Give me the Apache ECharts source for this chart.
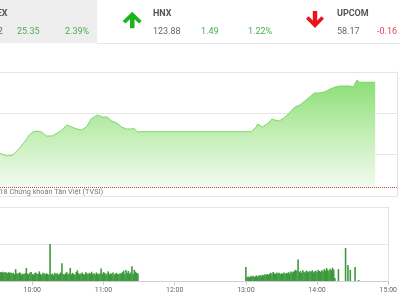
<!DOCTYPE html>
<html><head><meta charset="utf-8">
<script src="https://cdn.jsdelivr.net/npm/echarts@6/dist/echarts.min.js"></script>
<style>html,body{margin:0;padding:0;background:#fff}#c{width:400px;height:300px}</style>
</head><body><div id="c"></div>
<script>
// ---- data ----
const priceTimes = ["09:30","09:33","09:38","09:43","09:45","09:49","09:53","09:57","10:00","10:04","10:07","10:11","10:16","10:20","10:24","10:28","10:32","10:36","10:40","10:44","10:48","10:53","10:57","11:01","11:05","11:09","11:13","11:17","11:21","11:23","11:26","11:30",
  "13:00","13:01","13:04","13:05","13:09","13:13","13:17","13:19","13:23","13:28","13:32","13:36","13:40","13:44","13:48","13:52","13:56","14:00","14:05","14:09","14:13","14:17","14:21","14:24","14:27","14:29","14:33","14:42"];
const priceValues = [1070.10,1070.33,1069.68,1069.80,1070.41,1071.62,1073.07,1074.76,1075.49,1075.73,1075.49,1074.52,1074.52,1075.24,1075.97,1077.18,1076.70,1076.21,1075.97,1076.70,1078.63,1079.60,1079.11,1079.11,1078.15,1077.66,1076.70,1076.21,1076.21,1076.45,1075.49,1075.56,
  1075.56,1075.97,1076.70,1077.42,1076.70,1077.42,1078.63,1078.39,1078.15,1079.11,1080.32,1081.53,1082.02,1082.98,1083.95,1084.92,1084.92,1085.16,1085.89,1086.37,1086.61,1086.61,1086.61,1086.37,1088.06,1087.52,1087.52,1087.52];
const referenceValue = 1062.17;

const morningStart = "09:33";
const morningVolume = [
  24,23,25,22,24,23,21,24,22,23,
  20,22,18,32,21,19,23,22,17,20,
  19,21,35,20,18,22,24,19,17,21,
  23,18,20,26,19,16,22,20,18,21,
  19,17,100,18,20,16,22,19,21,17,
  20,23,48,19,17,21,24,18,20,35,
  18,22,19,16,24,29,21,18,20,23,
  19,17,24,21,18,22,20,25,19,21,
  17,23,20,18,21,34,19,24,22,17,
  20,26,18,21,19,23,17,20,22,19,
  18,21,20,24,28,19,30,22,27,20,
  23,40,19,30,25,22,20];
const afternoonStart = "13:00";
const afternoonVolume = [
  38,
  11,12,10,13,12,14,11,13,15,12,
  14,16,13,17,15,18,16,19,17,20,
  22,18,24,21,19,23,20,22,18,21,
  20,23,19,22,21,24,20,26,23,25,
  28,30,27,
  58,
  24,27,22,29,25,23,28,26,24,27,
  25,29,23,26,28,24,30,27,25,29,
  26,32,28,35,30,27,33,29,36,31,
  8,0,0,32,0,0,0,0,0,89,0,43,0,30,0,0,0,38,0,0,3];

const tickLabels = ["10:00","11:00","12:00","13:00","14:00","15:00"];
const axisStart = "09:32.8";
const axisEnd = "15:00";

const indexNames = ["VNINDEX","HNX","UPCOM"];
const indexPrices = ["1087.52","123.88","58.17"];
const indexChanges = ["25.35","1.49","-0.16"];
const indexPercents = ["2.39%","1.22%"];
const creditText = "© 2018 Chứng khoán Tân Việt (TVSI)";

// ---- helpers ----
function toMin(s){ const p = s.split(':'); return (+p[0])*60 + parseFloat(p[1]); }
function fmt(v){ const h = Math.floor(v/60), m = Math.round(v - h*60); return (h<10?'0':'')+h+':'+(m<10?'0':'')+m; }

const priceData = priceTimes.map((t,i)=>[toMin(t), priceValues[i]]);
const volData = [];
morningVolume.forEach((v,i)=>volData.push([toMin(morningStart)+i, v]));
afternoonVolume.forEach((v,i)=>volData.push([toMin(afternoonStart)+i, v]));
const ticks = tickLabels.map(toMin);
const xmin = toMin(axisStart), xmax = toMin(axisEnd);

const green = '#4cb050', grayText = '#666', nameText = '#555', font = 'Roboto';
function txt(text, x, y, fill, opts){
  opts = opts || {};
  return {type:'text', silent:true, style:{text:text, x:x, y:y, fill:fill,
    font:(opts.weight||'normal')+' '+(opts.size||9)+'px '+font,
    align:opts.align||'left', textAlign:opts.align||'left',
    verticalAlign:'middle', textVerticalAlign:'middle'}};
}

const chart = echarts.init(document.getElementById('c'), null, {renderer:'canvas'});
chart.setOption({
  animation:false,
  backgroundColor:'#fff',
  grid:[
    {left:0, right:3, top:72, height:124},
    {left:0, right:3, top:207, height:74}
  ],
  xAxis:[
    {type:'value', gridIndex:0, min:xmin, max:xmax, axisLine:{show:false}, axisTick:{show:false}, axisLabel:{show:false}, splitLine:{show:false}},
    {type:'value', gridIndex:1, min:xmin, max:xmax,
      axisLine:{show:true, lineStyle:{color:'#d0d0d0'}},
      axisTick:{show:true, length:4, lineStyle:{color:'#cccccc'}, customValues:ticks},
      axisLabel:{show:true, customValues:ticks, formatter:fmt, color:grayText, fontSize:7, fontFamily:font, margin:6},
      splitLine:{show:false}}
  ],
  yAxis:[
    {type:'value', gridIndex:0, position:'right', min:1060, max:1090, interval:10,
      axisLine:{show:true, lineStyle:{color:'#e2e2e2'}}, axisTick:{show:false}, axisLabel:{show:false},
      splitLine:{show:true, lineStyle:{color:'#e6e6e6'}}},
    {type:'value', gridIndex:1, position:'right', min:0, max:200, interval:100,
      axisLine:{show:true, lineStyle:{color:'#e2e2e2'}}, axisTick:{show:false}, axisLabel:{show:false},
      splitLine:{show:true, lineStyle:{color:'#e6e6e6'}}}
  ],
  series:[
    {type:'line', xAxisIndex:0, yAxisIndex:0, data:priceData, showSymbol:false, symbol:'none',
      lineStyle:{color:'#7fd468', width:1},
      areaStyle:{origin:referenceValue, opacity:1, color:{type:'linear', x:0, y:0, x2:0, y2:1,
        colorStops:[{offset:0, color:'#8ade73'},{offset:0.5, color:'#c2eeb5'},{offset:1, color:'#f1fbee'}]}},
      markLine:{silent:true, symbol:'none', label:{show:false},
        lineStyle:{color:'#b03a2e', type:'dotted', width:1, opacity:0.9},
        data:[{yAxis:referenceValue}]}
    },
    {type:'bar', xAxisIndex:1, yAxisIndex:1, data:volData, barWidth:1.6,
      itemStyle:{color:'#3d993d'}}
  ],
  graphic:[
    {type:'rect', silent:true, shape:{x:0, y:0, width:97, height:43}, style:{fill:'#eeeeee'}},
    {type:'line', silent:true, shape:{x1:97, y1:43.5, x2:400, y2:43.5}, style:{stroke:'#e6e6e6', lineWidth:1}},
    {type:'polygon', silent:true, shape:{points:[[132.2,11.7],[141.7,21],[139,23.6],[134.5,19.2],[134.5,28.3],[130,28.3],[130,19.2],[125.4,23.6],[122.7,21]]}, style:{fill:'#1db31d'}},
    {type:'polygon', silent:true, shape:{points:[[315,28],[324,18.7],[321.4,16.2],[317.2,20.5],[317.2,11],[312.8,11],[312.8,20.5],[308.6,16.2],[306,18.7]]}, style:{fill:'#e8161b'}},
    txt(indexNames[0], 7.5, 13.3, nameText, {align:'right', weight:'bold'}),
    txt(indexPrices[0], 2.7, 31.8, grayText, {align:'right'}),
    txt(indexChanges[0], 17, 31.8, green),
    txt(indexPercents[0], 65, 31.8, green),
    txt(indexNames[1], 153, 13.3, nameText, {weight:'bold'}),
    txt(indexPrices[1], 153, 31.8, grayText),
    txt(indexChanges[1], 201, 31.8, green),
    txt(indexPercents[1], 248, 31.8, green),
    txt(indexNames[2], 337, 13.3, nameText, {weight:'bold'}),
    txt(indexPrices[2], 337, 31.8, grayText),
    txt(indexChanges[2], 377, 31.8, '#e0445a'),
    txt(creditText, 103, 192, '#777', {align:'right', size:7.3})
  ]
});
</script></body></html>
